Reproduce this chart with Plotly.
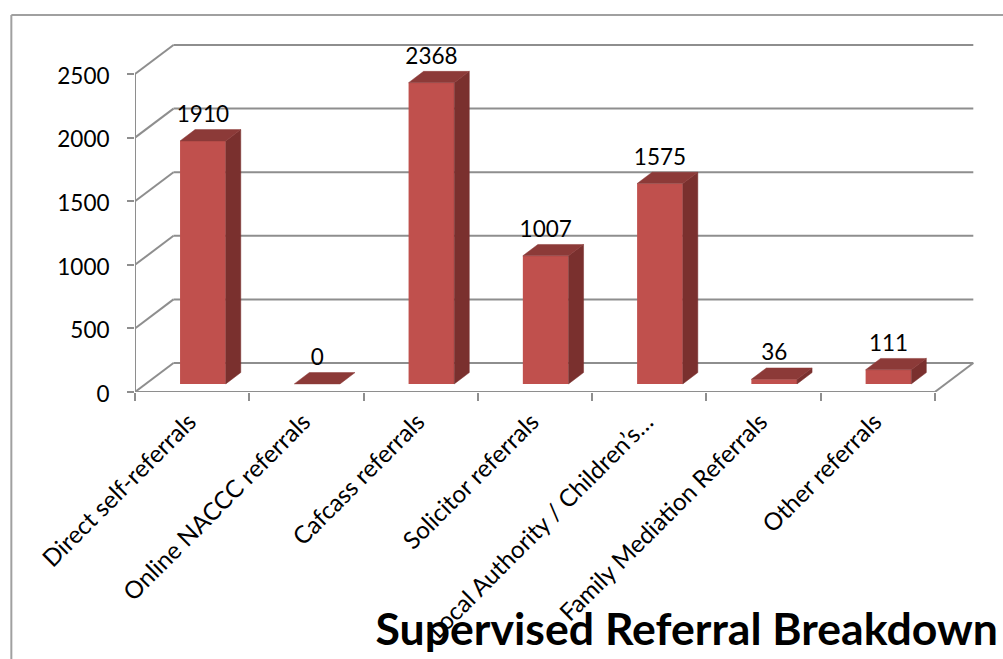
import plotly.graph_objects as go

categories = ["Direct self-referrals", "Online NACCC referrals", "Cafcass referrals",
              "Solicitor referrals", "Local Authority / Children’s…",
              "Family Mediation Referrals", "Other referrals"]
values = [1910, 0, 2368, 1007, 1575, 36, 111]
y_ticks = [0, 500, 1000, 1500, 2000, 2500]
title_text = "Supervised Referral Breakdown"

W, H = 1003, 659
ML, MR, MT, MB = 134.7, 0, 0, 267
CAT_PX = 114.3
UNIT_PX = 318 / 2500
FONT = "Lato"
GRID = "#8E8E8E"
FRONT, TOP, SIDE = "#C0504D", "#8C3A38", "#7A302E"

# oblique projection: depth 0..1 on the floor, expressed in axis units
DX = 38.5 / CAT_PX
DY = 29 / UNIT_PX
D0, D1 = 0.28, 0.67
BAR_W = 0.40
LABEL_GAP = 2 / UNIT_PX

PW, PH = W - ML - MR, H - MT - MB
n = len(categories)

fig = go.Figure()

def line(xs, ys):
    fig.add_trace(go.Scatter(x=xs, y=ys, mode="lines", cliponaxis=False, hoverinfo="skip",
                             line=dict(color=GRID, width=2), showlegend=False))

def wall_line(x0, y0, x1, y1):
    # sits below the traces, so the bars hide the walls behind them
    return dict(type="line", layer="below", xref="x", yref="y", x0=x0, y0=y0, x1=x1, y1=y1,
                line=dict(color=GRID, width=2))

def face(xs, ys, color):
    fig.add_trace(go.Scatter(x=xs + xs[:1], y=ys + ys[:1], mode="lines", fill="toself",
                             fillcolor=color, cliponaxis=False, hoverinfo="skip",
                             line=dict(color=color, width=0.5), showlegend=False))

walls = []
for t in y_ticks:
    walls.append(wall_line(-0.5, t, -0.5 + DX, t + DY))
    walls.append(wall_line(-0.5 + DX, t + DY, n - 0.5 + DX, t + DY))
walls.append(wall_line(n - 0.5, 0, n - 0.5 + DX, DY))

line([-0.5, -0.5], [0, y_ticks[-1]])
line([-0.5, n - 0.5], [0, 0])

# front faces through the bar trace
fig.add_trace(go.Bar(x=[i + D0 * DX for i in range(n)], y=values, base=D0 * DY, width=BAR_W,
                     marker=dict(color=FRONT, line=dict(width=0)), showlegend=False,
                     hoverinfo="skip"))

for i, v in enumerate(values):
    l = i + D0 * DX - BAR_W / 2
    r = l + BAR_W
    ox, oy = (D1 - D0) * DX, (D1 - D0) * DY
    b = D0 * DY
    if v > 0:
        face([r, r + ox, r + ox, r], [b, b + oy, b + oy + v, b + v], SIDE)
    face([l, r, r + ox, l + ox], [b + v, b + v, b + v + oy, b + v + oy], TOP)

fig.add_trace(go.Scatter(x=[i + D0 * DX for i in range(n)],
                         y=[v + D1 * DY + LABEL_GAP for v in values],
                         mode="text", text=[str(v) for v in values], textposition="top center",
                         textfont=dict(family=FONT, size=22.5, color="#000000"),
                         cliponaxis=False, hoverinfo="skip", showlegend=False))

fig.update_layout(
    width=W, height=H, autosize=False,
    margin=dict(l=ML, r=MR, t=MT, b=MB, pad=0),
    paper_bgcolor="white", plot_bgcolor="white",
    bargap=0.6,
    font=dict(family=FONT, size=22.5, color="#000000"),
    title=dict(text="<b>" + title_text + "</b>", xref="container", yref="container",
               x=998 / W, xanchor="right",
               y=(H - 645) / H, yanchor="bottom",
               font=dict(family=FONT, size=44.6, color="#000000")),
    xaxis=dict(range=[-0.5, n - 0.5 + (PW - n * CAT_PX) / CAT_PX], tickmode="array",
               tickvals=list(range(n)), ticktext=categories, tickangle=-45,
               tickfont=dict(family=FONT, size=24.2),
               showgrid=False, zeroline=False, showline=False, automargin=False,
               ticks="", ticklabelstandoff=10, ticklabelshift=-3,
               minor=dict(tickmode="array", tickvals=[i - 0.5 for i in range(n + 1)],
                          ticks="outside", ticklen=8, tickcolor=GRID, tickwidth=2,
                          showgrid=False)),
    yaxis=dict(range=[0, PH / UNIT_PX], tickmode="array", tickvals=y_ticks,
               ticktext=[str(t) for t in y_ticks], showgrid=False, zeroline=False,
               showline=False, ticks="outside", ticklen=7, tickcolor=GRID, tickwidth=2,
               ticklabelstandoff=13, ticklabelshift=2, automargin=False),
    shapes=walls + [
        dict(type="line", xref="paper", yref="paper",
             x0=(11 - ML) / PW, x1=(W + 5 - ML) / PW,
             y0=(PH - 15) / PH, y1=(PH - 15) / PH,
             line=dict(color="#A0A0A0", width=2)),
        dict(type="line", xref="paper", yref="paper",
             x0=(11 - ML) / PW, x1=(11 - ML) / PW,
             y0=(PH - 15) / PH, y1=-(MB + 5) / PH,
             line=dict(color="#A0A0A0", width=2))],
)
# the page's default body margin would shift the whole chart by 8 px
fig.write_html("out.html", config=dict(displayModeBar=False),
               post_script="document.body.style.margin='0';")
